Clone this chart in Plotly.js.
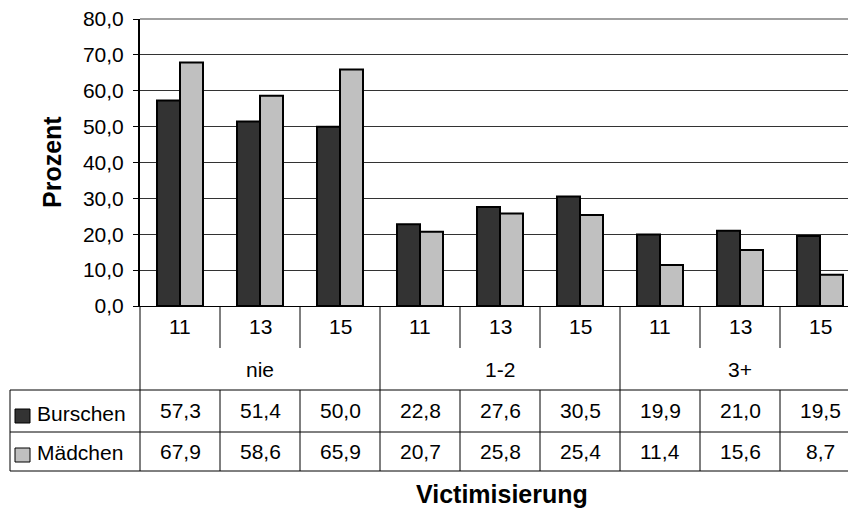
<!DOCTYPE html>
<html><head><meta charset="utf-8">
<script src="https://cdn.plot.ly/plotly-3.0.1.min.js"></script>
<style>html,body{margin:0;padding:0;background:#fff;overflow:hidden}</style>
</head><body><div id="chart" style="width:848px;height:510px"></div>
<script>
// ---- data ----
const ageLabels = ['11','13','15','11','13','15','11','13','15'];
const groupLabels = ['nie','1-2','3+'];
const seriesNames = ['Burschen','Mädchen'];
const burschen = [57.3,51.4,50.0,22.8,27.6,30.5,19.9,21.0,19.5];
const maedchen = [67.9,58.6,65.9,20.7,25.8,25.4,11.4,15.6,8.7];
const yAxisTitle = 'Prozent';
const xAxisTitle = 'Victimisierung';

// ---- layout constants ----
const colors = ['#333333','#c0c0c0'];
const W=848, H=510, L=140, T=19, B=204;
const plotW = W-L, plotH = H-T-B;
const catPx = 80;
const xMin = -0.5, xMax = xMin + plotW/catPx;
const FONT = '"Liberation Sans", Arial, sans-serif';
const px2x = px => (px-L)/plotW;
const py2y = py => (H-B-py)/plotH;
const c2x = c => (c - xMin)/(xMax-xMin);
const fmt = v => v.toFixed(1).replace('.', ',');
const cats = ageLabels.map((_, i) => i);
const series = [burschen, maedchen];

const traces = series.map((vals, k) => ({
  type: 'bar', x: cats, y: vals, name: seriesNames[k],
  marker: {color: colors[k], line: {color: '#000', width: 2}},
  hoverinfo: 'skip'
}));

const lineStyle = {color: '#000', width: 1};
const shapes = [];
function vline(px, py0, py1){ shapes.push({type:'line', xref:'paper', yref:'paper', x0:px, x1:px, y0:py2y(py0), y1:py2y(py1), line:lineStyle}); }
function hline(py, px0, px1){ shapes.push({type:'line', xref:'paper', yref:'paper', x0:px0, x1:px1, y0:py2y(py), y1:py2y(py), line:lineStyle}); }

// top border of the plot area (light grey)
shapes.push({type:'line', xref:'paper', yref:'paper', x0:0, x1:1, y0:1, y1:1, line:{color:'#a0a0a0', width:2}, layer:'below'});

const yAge = 306, yAgeEnd = 348, yRow1 = 390, yRow2 = 432, yEnd = 471, tableLeft = 10;
for (let i = 0; i < cats.length - 1; i++) {
  const bx = c2x(i + 0.5);
  if (bx > 1) continue;
  if ((i + 1) % 3 === 0) vline(bx, yAge, yEnd);
  else { vline(bx, yAge, yAgeEnd); vline(bx, yRow1, yEnd); }
}
vline(0, yAge, yEnd);
vline(px2x(tableLeft), yRow1, yEnd);
[yRow1, yRow2, yEnd].forEach(py => hline(py, px2x(tableLeft), 1));

// legend keys
const keyY = [[409, 423], [448, 462]];
series.forEach((_, k) => {
  shapes.push({type:'rect', xref:'paper', yref:'paper', x0:px2x(15), x1:px2x(30),
    y0:py2y(keyY[k][1]), y1:py2y(keyY[k][0]), fillcolor: colors[k], line:{color:'#000', width:1}});
});

const annotations = [];
const txt = (text, x, y, extra) => annotations.push(Object.assign({text, x, y, xref:'paper', yref:'paper',
  showarrow:false, xanchor:'center', yanchor:'middle', font:{family:FONT, size:21, color:'#000'}}, extra||{}));

cats.forEach(i => {
  const cx = c2x(i);
  if (cx > 1) return;
  txt(ageLabels[i], cx, py2y(326));
});
cats.forEach(i => {
  const cx = c2x(i);
  if (cx > 1.02) return;
  txt(fmt(burschen[i]), cx, py2y(411));
  txt(fmt(maedchen[i]), cx, py2y(451));
});
groupLabels.forEach((g, j) => txt(g, c2x(j*3 + 1), py2y(369)));
seriesNames.forEach((n, k) => txt(n, px2x(35), py2y([413, 452][k]), {xanchor:'left'}));
txt('<b>'+yAxisTitle+'</b>', px2x(52), py2y(162), {textangle:-90, font:{family:FONT, size:25, color:'#000'}});
txt('<b>'+xAxisTitle+'</b>', px2x(502), py2y(494), {font:{family:FONT, size:25, color:'#000'}});

const layout = {
  width: W, height: H,
  margin: {l: L, r: 0, t: T, b: B, pad: 0},
  paper_bgcolor: '#fff', plot_bgcolor: '#fff',
  separators: ',.',
  barmode: 'group', bargap: 0.425, bargroupgap: 0,
  showlegend: false,
  font: {family: FONT, size: 21, color: '#000'},
  xaxis: {range: [xMin, xMax], showticklabels: false, ticks: '', showgrid: false,
    zeroline: false, showline: true, linecolor: '#000', linewidth: 1, fixedrange: true},
  yaxis: {range: [0, 80], dtick: 10, tick0: 0, tickformat: '.1f', ticks: 'outside', ticklen: 5,
    tickcolor: '#000', showline: true, linecolor: '#000', linewidth: 2, gridcolor: '#333', gridwidth: 1,
    ticklabelstandoff: 5,
    zeroline: false, tickfont: {family: FONT, size: 21, color: '#000'}, fixedrange: true},
  shapes, annotations
};
Plotly.newPlot('chart', traces, layout, {staticPlot: true, displayModeBar: false});
</script></body></html>
